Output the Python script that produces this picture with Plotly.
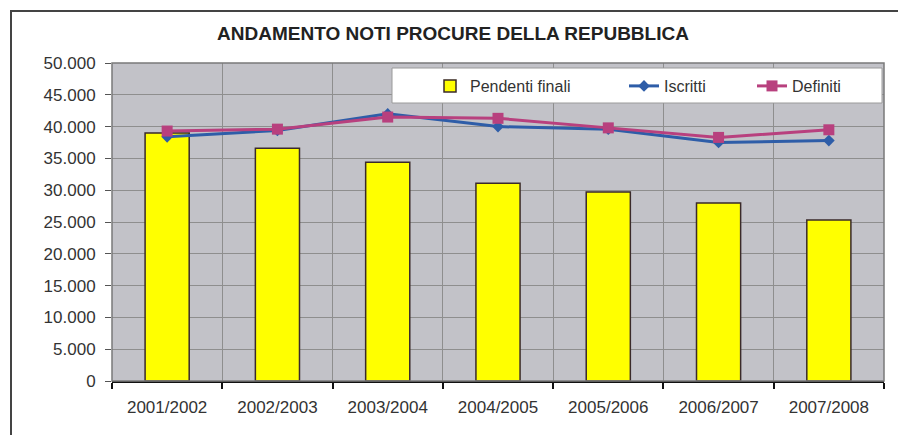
import plotly.graph_objects as go

# Judicial years
anni = ["2001/2002", "2002/2003", "2003/2004", "2004/2005",
        "2005/2006", "2006/2007", "2007/2008"]

# Pending cases at year end (bars)
pendenti_finali = [39000, 36600, 34400, 31100, 29700, 28000, 25300]
# New cases registered
iscritti = [38400, 39400, 42000, 40000, 39600, 37500, 37800]
# Cases closed
definiti = [39300, 39600, 41500, 41300, 39800, 38300, 39500]

y_ticks = list(range(0, 50001, 5000))

W, H = 898, 435
L, R, T, B = 112, 14, 63, 54
pw, ph = W - L - R, H - T - B


def px_x(px):
    return (px - L) / pw


def px_y(py):
    return 1 - (py - T) / ph


fig = go.Figure()

fig.add_trace(go.Bar(
    x=anni, y=pendenti_finali, name="Pendenti finali", legend="legend",
    marker=dict(color="#FFFF00", line=dict(color="#3A2A2A", width=1.5)),
    width=0.4,
))
fig.add_trace(go.Scatter(
    x=anni, y=iscritti, name="Iscritti", mode="lines+markers",
    legend="legend2",
    line=dict(color="#2E5DA8", width=3),
    marker=dict(symbol="diamond", size=9, color="#2E5DA8"),
))
fig.add_trace(go.Scatter(
    x=anni, y=definiti, name="Definiti", mode="lines+markers",
    legend="legend3",
    line=dict(color="#B8407E", width=3),
    marker=dict(symbol="square", size=11, color="#B8407E"),
))

shapes = [
    # outer chart frame
    dict(type="rect", xref="paper", yref="paper",
         x0=px_x(11), x1=px_x(905), y0=px_y(445), y1=px_y(11),
         line=dict(color="#444444", width=2), fillcolor="rgba(0,0,0,0)",
         layer="below"),
    # plot area border
    dict(type="rect", xref="paper", yref="paper",
         x0=0, x1=1, y0=0, y1=1,
         line=dict(color="#7A7A7A", width=1.5), fillcolor="rgba(0,0,0,0)",
         layer="above"),
    # legend box
    dict(type="rect", xref="paper", yref="paper",
         x0=px_x(392), x1=px_x(882), y0=px_y(103), y1=px_y(68),
         line=dict(color="#9A9A9A", width=1), fillcolor="white",
         layer="above"),
]

legend_font = dict(size=16, color="#333333")


def legend_at(px):
    return dict(orientation="h", x=px_x(px), xanchor="left",
                y=px_y(86), yanchor="middle",
                bgcolor="rgba(0,0,0,0)", borderwidth=0, font=legend_font)


fig.update_layout(
    width=W, height=H,
    margin=dict(l=L, r=R, t=T, b=B),
    paper_bgcolor="white",
    plot_bgcolor="#C2C2C8",
    separators=",.",
    font=dict(family="Liberation Sans, Arial, sans-serif", size=16,
              color="#333333"),
    title=dict(text="<b>ANDAMENTO NOTI PROCURE DELLA REPUBBLICA</b>",
               x=453 / W, xanchor="center", y=1 - 33 / H, yanchor="middle",
               yref="container", font=dict(size=19, color="#222222")),
    showlegend=True,
    legend=legend_at(430),
    legend2=legend_at(624),
    legend3=legend_at(752),
    shapes=shapes,
    xaxis=dict(
        type="category", tickson="boundaries",
        showgrid=True, gridcolor="#8E8E8E", gridwidth=1,
        showline=True, linecolor="#111111", linewidth=2,
        ticks="outside", ticklen=6, tickwidth=2, tickcolor="#111111",
        ticklabelstandoff=10,
        tickfont=dict(size=17, color="#333333"),
    ),
    yaxis=dict(
        range=[0, 50000], tickvals=y_ticks, tickformat=",.0f",
        showgrid=True, gridcolor="#8E8E8E", gridwidth=1,
        ticks="outside", ticklen=6, tickcolor="#555555",
        ticklabelstandoff=6,
        zeroline=False,
        tickfont=dict(size=17, color="#333333"),
    ),
)

fig.write_html("out.html")
